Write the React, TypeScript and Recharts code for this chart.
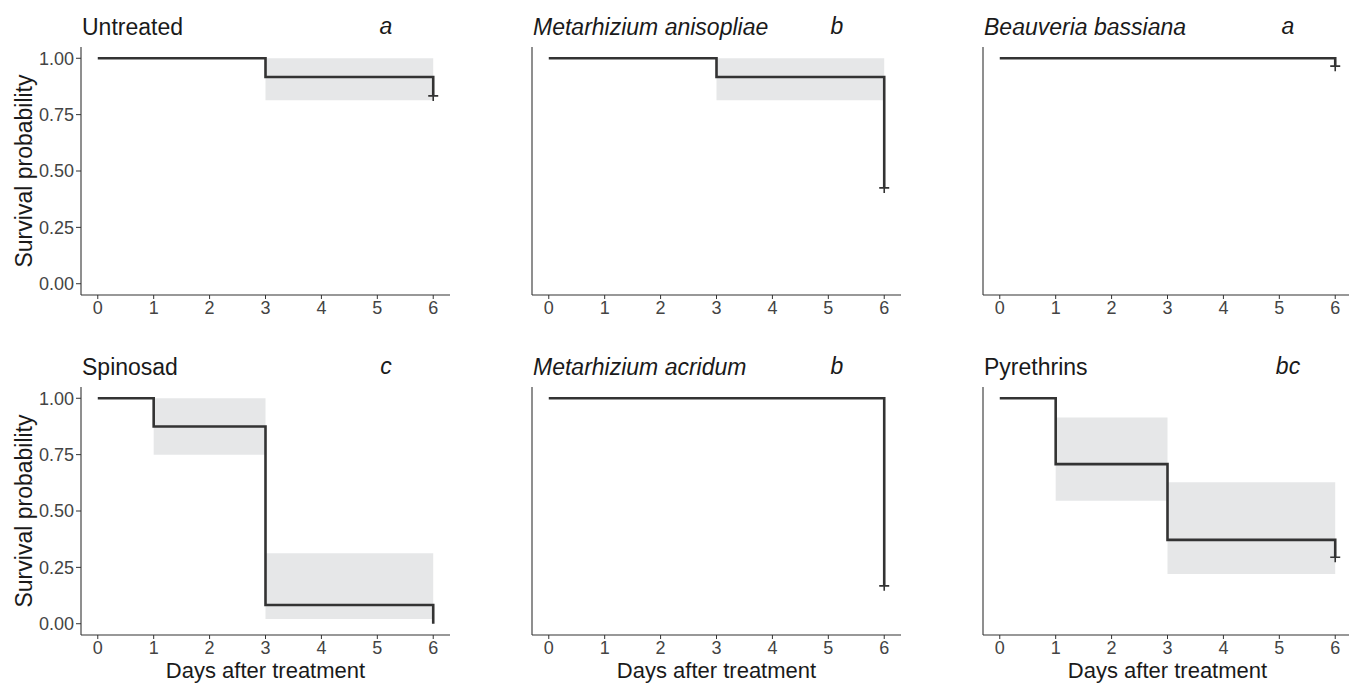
import React from 'react';
import { ComposedChart, Line, XAxis, YAxis, ReferenceArea } from 'recharts';

// panel labels
const panelTitles = ['Untreated', 'Metarhizium anisopliae', 'Beauveria bassiana', 'Spinosad', 'Metarhizium acridum', 'Pyrethrins'];
const titleItalic = [false, true, true, false, true, false];
const groupLetters = ['a', 'b', 'a', 'c', 'b', 'bc'];

const dayTicks = [0, 1, 2, 3, 4, 5, 6];
const probTicks = [0, 0.25, 0.5, 0.75, 1];

// Kaplan-Meier steps: day of each step and survival from that day on
const stepDays = [[0, 3, 6], [0, 3, 6], [0, 6], [0, 1, 3, 6], [0, 6], [0, 1, 3, 6]];
const survival = [
  [1, 0.917, 0.833],
  [1, 0.917, 0.425],
  [1, 0.965],
  [1, 0.875, 0.083, 0],
  [1, 0.168],
  [1, 0.708, 0.372, 0.295],
];
const censored = [true, true, true, false, true, true];

// confidence bands per step
const ciFrom = [[3], [3], [], [1, 3], [], [1, 3]];
const ciTo = [[6], [6], [], [3, 6], [], [3, 6]];
const ciLower = [[0.814], [0.814], [], [0.75, 0.021], [], [0.546, 0.221]];
const ciUpper = [[1], [1], [], [1, 0.313], [], [0.915, 0.627]];

const FONT = '"Liberation Sans", Arial, Helvetica, sans-serif';
const INK = '#333333';
const BAND = '#e6e7e8';

const PLOT_W = 369;
const PLOT_H = 248;
const colLeft = [81, 532, 983];
const rowTop = [47, 387];
const titleTop = [15.5, 355.5];

const Panel = ({ idx }: { idx: number }) => {
  const col = idx % 3;
  const row = Math.floor(idx / 3);
  const yW = col === 0 ? 81 : 12;
  const xH = row === 0 ? 30 : 48;
  const data = stepDays[idx].map((t, i) => ({ t, s: survival[idx][i] }));
  const last = data.length - 1;

  const dot = (p: any) => {
    if (p.index !== last || !censored[idx]) return <g key={`d${p.index}`} />;
    return (
      <path
        key={`d${p.index}`}
        d={`M${p.cx - 5},${p.cy}H${p.cx + 5}M${p.cx},${p.cy - 5}V${p.cy + 5}`}
        stroke={INK}
        strokeWidth={1.6}
        fill="none"
      />
    );
  };

  return (
    <div style={{ position: 'absolute', left: colLeft[col] - yW, top: rowTop[row] - 5 }}>
      <ComposedChart
        width={yW + PLOT_W}
        height={5 + PLOT_H + xH}
        data={data}
        margin={{ top: 5, right: 0, bottom: 0, left: 0 }}
      >
        <XAxis
          dataKey="t"
          type="number"
          domain={[-0.3, 6.3]}
          ticks={dayTicks}
          allowDataOverflow
          height={xH}
          tickSize={4}
          tickMargin={2}
          axisLine={{ stroke: INK, strokeWidth: 1.1 }}
          tickLine={{ stroke: INK }}
          tick={{ fontSize: 18, fill: '#444' }}
          label={row === 1 ? { value: 'Days after treatment', position: 'insideBottom', offset: 5, fontSize: 22, fill: '#1a1a1a' } : undefined}
        />
        {col === 0 ? (
          <YAxis
            type="number"
            domain={[-0.05, 1.05]}
            ticks={probTicks}
            allowDataOverflow
            width={yW}
            tickSize={5}
            tickMargin={2}
            tickFormatter={(v: number) => v.toFixed(2)}
            axisLine={{ stroke: INK, strokeWidth: 1.1 }}
            tickLine={{ stroke: INK }}
            tick={{ fontSize: 18, fill: '#444' }}
            label={{
              content: (p: any) => {
                const vb = p.viewBox || { x: 0, y: 0, height: PLOT_H };
                const x = vb.x + 32;
                const y = vb.y + vb.height / 2;
                return (
                  <text x={x} y={y} transform={`rotate(-90, ${x}, ${y})`} textAnchor="middle" fontSize={23} fill="#1a1a1a">
                    Survival probability
                  </text>
                );
              },
            }}
          />
        ) : (
          <YAxis
            type="number"
            domain={[-0.05, 1.05]}
            ticks={probTicks}
            allowDataOverflow
            width={yW}
            tick={false}
            tickLine={false}
            axisLine={{ stroke: INK, strokeWidth: 1.1 }}
          />
        )}
        {ciFrom[idx].map((x1, i) => (
          <ReferenceArea
            key={i}
            x1={x1}
            x2={ciTo[idx][i]}
            y1={ciLower[idx][i]}
            y2={ciUpper[idx][i]}
            fill={BAND}
            fillOpacity={1}
            stroke="none"
          />
        ))}
        <Line
          dataKey="s"
          type="stepAfter"
          stroke={INK}
          strokeWidth={2.6}
          dot={dot}
          activeDot={false}
          isAnimationActive={false}
        />
      </ComposedChart>
    </div>
  );
};

export default function App() {
  return (
    <div
      style={{
        position: 'absolute',
        left: 0,
        top: 0,
        width: 1349,
        height: 684,
        overflow: 'hidden',
        background: '#fff',
        fontFamily: FONT,
      }}
    >
      {panelTitles.map((title, idx) => {
        const col = idx % 3;
        const row = Math.floor(idx / 3);
        return (
          <React.Fragment key={title}>
            <div
              style={{
                position: 'absolute',
                left: colLeft[col] + 1,
                top: titleTop[row],
                fontSize: 23,
                lineHeight: 1,
                color: '#1a1a1a',
                fontStyle: titleItalic[idx] ? 'italic' : 'normal',
                whiteSpace: 'nowrap',
              }}
            >
              {title}
            </div>
            <div
              style={{
                position: 'absolute',
                left: colLeft[col] + 305,
                top: titleTop[row] - 1,
                transform: 'translateX(-50%)',
                fontSize: 23,
                lineHeight: 1,
                color: '#1a1a1a',
                fontStyle: 'italic',
                whiteSpace: 'nowrap',
              }}
            >
              {groupLetters[idx]}
            </div>
          </React.Fragment>
        );
      })}
      {panelTitles.map((_, idx) => (
        <Panel key={idx} idx={idx} />
      ))}
    </div>
  );
}
